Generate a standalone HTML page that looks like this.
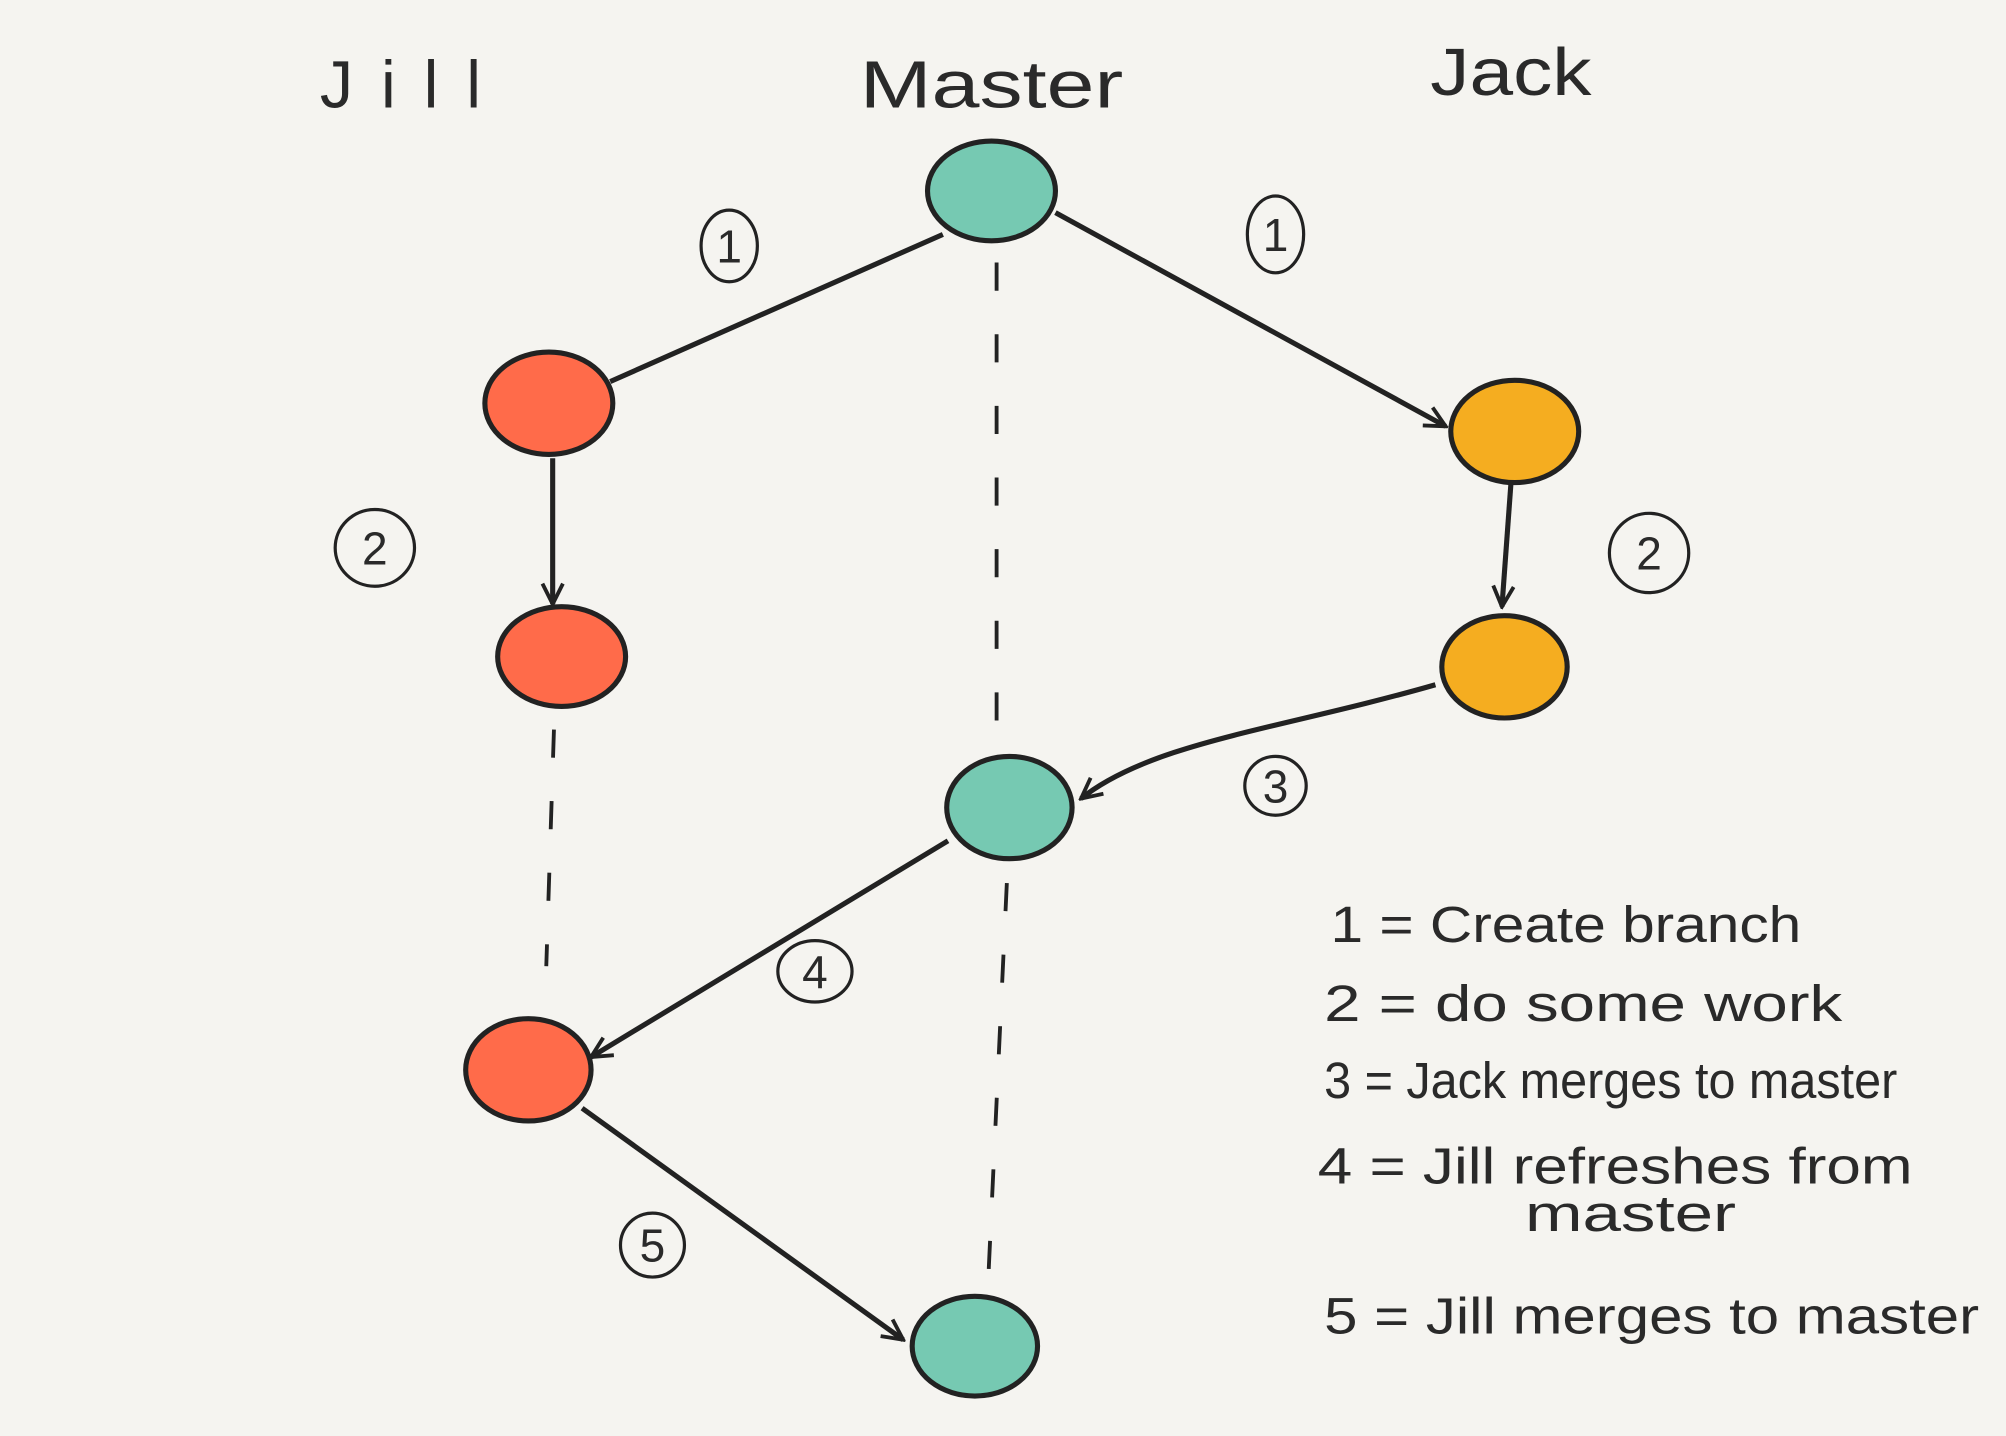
<!DOCTYPE html>
<html><head><meta charset="utf-8"><style>
html,body{margin:0;padding:0;background:#f5f4f0;}
svg{display:block;}
text{font-family:"Liberation Sans",sans-serif;fill:#2a2a2a;}
</style></head><body>
<svg width="2006" height="1436" viewBox="0 0 1568 1122" xmlns="http://www.w3.org/2000/svg">
<defs>
<marker id="a" viewBox="0 0 20 20" refX="18" refY="10" markerWidth="20" markerHeight="20" markerUnits="userSpaceOnUse" orient="auto">
<path d="M2,2 L18,10 L2,18" fill="none" stroke="#222" stroke-width="3"/>
</marker>
</defs>
<rect width="1568" height="1122" fill="#f5f4f0"/>
<g font-size="52">
<text x="250" y="84" textLength="126" lengthAdjust="spacing">Jill</text>
<text x="672" y="84" textLength="206" lengthAdjust="spacingAndGlyphs">Master</text>
<text x="1118" y="74" textLength="126" lengthAdjust="spacingAndGlyphs">Jack</text>
</g>
<g stroke="#222" stroke-width="4" fill="none">
<line x1="737" y1="183" x2="477" y2="298"/>
<line x1="825" y1="166" x2="1130" y2="333" marker-end="url(#a)"/>
<line x1="432" y1="358" x2="432" y2="472" marker-end="url(#a)"/>
<line x1="1181" y1="378" x2="1174" y2="474" marker-end="url(#a)"/>
<path d="M1122,535 C1000,570 900,580 845,624" marker-end="url(#a)"/>
<line x1="741" y1="657" x2="462" y2="826" marker-end="url(#a)"/>
<line x1="455" y1="866" x2="706" y2="1047" marker-end="url(#a)"/>
<g stroke-dasharray="22,34" stroke-width="3">
<line x1="779" y1="205" x2="779" y2="590"/>
<line x1="433" y1="570" x2="427" y2="755"/>
<line x1="787" y1="690" x2="772" y2="1010"/>
</g>
</g>
<g stroke="#222" stroke-width="4">
<ellipse cx="775" cy="149" rx="50" ry="39" fill="#76c9b2"/>
<ellipse cx="429" cy="315" rx="50" ry="40" fill="#ff6b4a"/>
<ellipse cx="439" cy="513" rx="50" ry="39" fill="#ff6b4a"/>
<ellipse cx="1184" cy="337" rx="50" ry="40" fill="#f5ad20"/>
<ellipse cx="1176" cy="521" rx="49" ry="40" fill="#f5ad20"/>
<ellipse cx="789" cy="631" rx="49" ry="40" fill="#76c9b2"/>
<ellipse cx="413" cy="836" rx="49" ry="40" fill="#ff6b4a"/>
<ellipse cx="762" cy="1052" rx="49" ry="39" fill="#76c9b2"/>
</g>
<g stroke="#222" stroke-width="2.5" fill="none">
<ellipse cx="570" cy="192" rx="22" ry="28"/>
<ellipse cx="997" cy="183" rx="22" ry="30"/>
<ellipse cx="293" cy="428" rx="31" ry="30"/>
<ellipse cx="1289" cy="432" rx="31" ry="31"/>
<ellipse cx="997" cy="614" rx="24" ry="23"/>
<ellipse cx="637" cy="759" rx="29" ry="24"/>
<ellipse cx="510" cy="973" rx="25" ry="25"/>
</g>
<g font-size="36" text-anchor="middle">
<text x="570" y="205">1</text>
<text x="997" y="196">1</text>
<text x="293" y="441">2</text>
<text x="1289" y="445">2</text>
<text x="997" y="627">3</text>
<text x="637" y="772">4</text>
<text x="510" y="986">5</text>
</g>
<g font-size="40">
<text x="1040" y="736" textLength="368" lengthAdjust="spacingAndGlyphs">1 = Create branch</text>
<text x="1035" y="798" textLength="405" lengthAdjust="spacingAndGlyphs">2 = do some work</text>
<text x="1035" y="858" textLength="448" lengthAdjust="spacingAndGlyphs">3 = Jack merges to master</text>
<text x="1030" y="925" textLength="465" lengthAdjust="spacingAndGlyphs">4 = Jill refreshes from</text>
<text x="1192" y="962" textLength="165" lengthAdjust="spacingAndGlyphs">master</text>
<text x="1035" y="1042" textLength="512" lengthAdjust="spacingAndGlyphs">5 = Jill merges to master</text>
</g>
</svg>
</body></html>
